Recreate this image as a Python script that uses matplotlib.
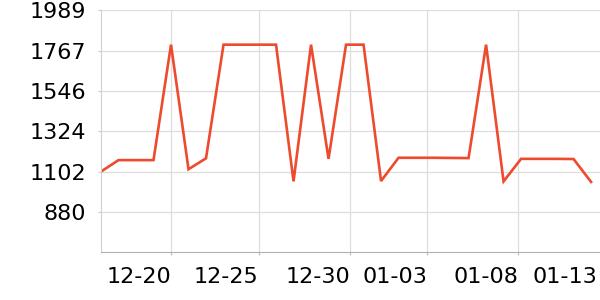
import matplotlib
matplotlib.use("Agg")
import matplotlib.pyplot as plt

# daily values, 12-16 .. 01-13
values = [1102, 1165, 1165, 1165, 1800, 1115, 1175, 1800, 1800, 1800,
          1800, 1048, 1800, 1172, 1800, 1800, 1050, 1178, 1178, 1178,
          1177, 1176, 1800, 1048, 1172, 1172, 1172, 1171, 1045]

tick_labels = ["12-20", "12-25", "12-30", "01-03", "01-08", "01-13"]
tick_pos = [4, 9, 14.25, 18.65, 23.85, 28.35]

y_ticks = [880, 1102, 1324, 1546, 1767, 1989]

fig = plt.figure(figsize=(6, 3), dpi=100)
ax = fig.add_axes([101 / 600, 47.7 / 300, 499 / 600, 242 / 300])

ax.plot(range(len(values)), values, color="#ee4a2e", lw=1.9, solid_joinstyle="miter")

ax.set_xlim(0, 28.51)
ax.set_ylim(658, 1989)

ax.set_yticks(y_ticks)
ax.set_yticklabels([str(v) for v in y_ticks])
ax.set_xticks(tick_pos)
ax.set_xticklabels(tick_labels, ha="right")

ax.grid(True, color="#dddddd", lw=0.9)
ax.set_axisbelow(True)

for s in ["top", "right"]:
    ax.spines[s].set_visible(False)
ax.spines["left"].set_color("#d0d0d0")
ax.spines["bottom"].set_color("#b0b0b0")

ax.tick_params(axis="y", length=2.5, width=0.8, color="#cccccc", pad=8, labelsize=16)
ax.tick_params(axis="x", length=2.5, width=0.8, color="#bbbbbb", pad=8, labelsize=16)

# last date label sits at the edge, no grid line or tick mark there
last = ax.xaxis.get_major_ticks()[-1]
last.tick1line.set_visible(False)
last.gridline.set_visible(False)

fig.savefig("out.png", dpi=100)
